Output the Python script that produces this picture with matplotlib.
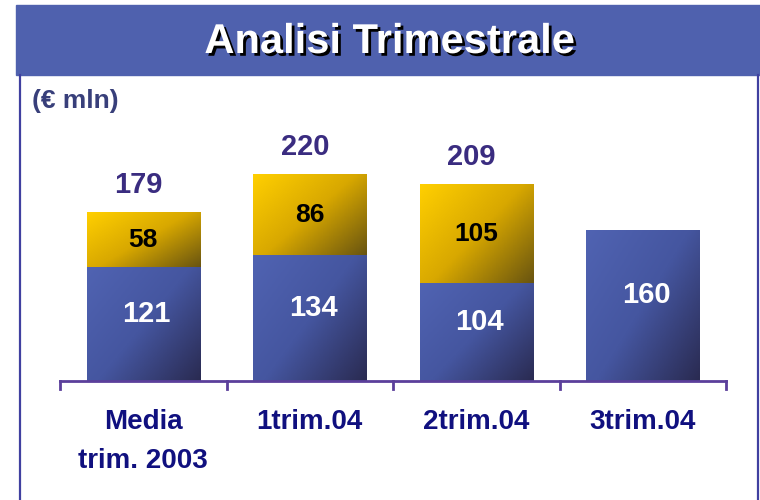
import numpy as np
import matplotlib
matplotlib.use("Agg")
import matplotlib.pyplot as plt
import matplotlib.patheffects as pe
from matplotlib.colors import LinearSegmentedColormap
from matplotlib.lines import Line2D
from matplotlib.patches import Rectangle

plt.rcParams['font.family'] = ['Liberation Sans', 'DejaVu Sans']
plt.rcParams['font.weight'] = 'bold'

# data
categories = ['Media\ntrim. 2003', '1trim.04', '2trim.04', '3trim.04']
base_vals = [121, 134, 104, 160]
top_vals = [58, 86, 105, 0]
totals = [179, 220, 209, None]

fig = plt.figure(figsize=(7.6, 5), dpi=100, facecolor='white')

# title banner and frame
fig.patches.append(Rectangle((16/760, 1 - 75/500), (760-16)/760, 70/500,
                             transform=fig.transFigure, color='#4F61AE', zorder=0))
fig.lines.append(Line2D([20/760, 20/760], [0, 1 - 75/500], transform=fig.transFigure,
                        color='#4040A0', lw=1.6))
fig.lines.append(Line2D([758/760, 758/760], [0, 1 - 75/500], transform=fig.transFigure,
                        color='#4040A0', lw=1.6))
fig.text(390/760, 1 - 42/500, 'Analisi Trimestrale', color='white', fontsize=30,
         fontweight='bold', ha='center', va='center',
         path_effects=[pe.withSimplePatchShadow(offset=(2, -2), shadow_rgbFace='black', alpha=1.0)])
fig.text(32/760, 1 - 101/500, '(€ mln)', color='#383F7A', fontsize=19,
         fontweight='bold', ha='left', va='center')

ax = fig.add_axes([60/760, 1 - 381/500, 666/760, 235/500])
ax.set_xlim(-0.5, 3.5)
ax.set_ylim(0, 250)
ax.axis('off')

blue_cm = LinearSegmentedColormap.from_list('b', ['#5063B2', '#4556A0', '#2A2B52'])
gold_cm = LinearSegmentedColormap.from_list('g', ['#FFCF00', '#D8A800', '#6A5510'])

gx, gy = np.meshgrid(np.linspace(0, 1, 60), np.linspace(0, 1, 60))
grad = np.clip(0.55 * gx + 0.45 * gy, 0, 1)  # top-left light, bottom-right dark

w = 0.68
for i in range(len(categories)):
    b = base_vals[i]
    t = top_vals[i]
    ax.imshow(grad, cmap=blue_cm, extent=(i - w/2, i + w/2, 0, b), origin='upper',
              aspect='auto', zorder=2)
    if t > 0:
        ax.imshow(grad, cmap=gold_cm, extent=(i - w/2, i + w/2, b, b + t), origin='upper',
                  aspect='auto', zorder=2)
        ax.text(i, b + t/2, str(t), ha='center', va='center', fontsize=19,
                fontweight='bold', color='black', zorder=3)
    ax.text(i + 0.02, b/2 + 11, str(b), ha='center', va='center', fontsize=21,
            fontweight='bold', color='white', zorder=3)
    if totals[i] is not None:
        ax.text(i - 0.03, b + t + 29, str(totals[i]), ha='center', va='center', fontsize=21,
                fontweight='bold', color='#3A2C80', clip_on=False, zorder=3)

ax.set_xlim(-0.5, 3.5)
ax.set_ylim(0, 250)

# axis line with ticks at boundaries
axc = '#5B3F9B'
ax.plot([-0.5, 3.5], [0, 0], color=axc, lw=2, clip_on=False, zorder=4)
for xb in np.arange(-0.5, 3.6, 1.0):
    ax.plot([xb, xb], [0, -8.5], color=axc, lw=2, clip_on=False, zorder=4)

for i, c in enumerate(categories):
    ax.text(i, -30, c, ha='center', va='top', fontsize=20, fontweight='bold',
            color='#10107F', linespacing=1.65, clip_on=False)

fig.savefig('out.png', dpi=100, facecolor='white')
